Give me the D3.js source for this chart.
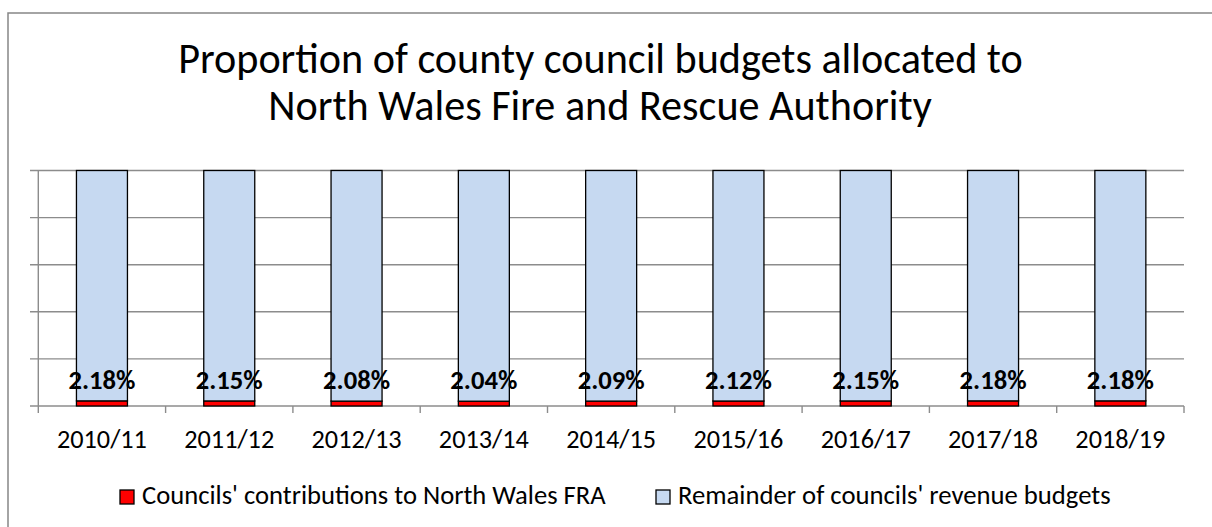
<!DOCTYPE html>
<html>
<head>
<meta charset="utf-8">
<script src="https://cdn.jsdelivr.net/npm/d3@7"></script>
<style>
  html, body { margin: 0; padding: 0; background: #fff; }
  svg { display: block; }
  text { font-family: Carlito, Calibri, Lato, "Open Sans", sans-serif; fill: #000; }
</style>
</head>
<body>
<svg id="chart" width="1212" height="527"></svg>
<script>
const categories = ["2010/11","2011/12","2012/13","2013/14","2014/15","2015/16","2016/17","2017/18","2018/19"];
const fraShare = [2.18, 2.15, 2.08, 2.04, 2.09, 2.12, 2.15, 2.18, 2.18];
const remainderShare = fraShare.map(v => 100 - v);
const yTicks = [0, 20, 40, 60, 80, 100];
const seriesNames = ["Councils' contributions to North Wales FRA", "Remainder of councils' revenue budgets"];
const seriesColors = ["#FF0000", "#C6D9F1"];
const titleLines = ["Proportion of county council budgets allocated to", "North Wales Fire and Rescue Authority"];

(function () {
const svg = d3.select("#chart");

// choose font-size so that the text's natural width matches the target
function fit(sel, base, target) {
  sel.style("font-size", base + "px");
  const w = sel.node().getComputedTextLength();
  sel.style("font-size", (base * target / w) + "px");
}

svg.append("rect").attr("x", 8).attr("y", 13).attr("width", 1240).attr("height", 540)
  .attr("fill", "#fff").attr("stroke", "#868686").attr("stroke-width", 1.5);

const t1 = svg.append("text").attr("x", 600.5).attr("y", 73).attr("text-anchor", "middle").text(titleLines[0]);
fit(t1, 36, 845);
const t2 = svg.append("text").attr("x", 600).attr("y", 120).attr("text-anchor", "middle").text(titleLines[1]);
t2.style("font-size", t1.style("font-size"));

const pLeft = 38.3, pRight = 1184, pTop = 170.5, pBottom = 406;
const xb = d3.scaleBand().domain(categories).range([pLeft, pRight]);
const y = d3.scaleLinear().domain([0, 100]).range([pBottom, pTop]);

svg.append("g").selectAll("line").data(yTicks).join("line")
  .attr("x1", 30).attr("x2", pRight)
  .attr("y1", d => y(d)).attr("y2", d => y(d))
  .attr("stroke", "#8c8c8c").attr("stroke-width", 1.4);

svg.append("line").attr("x1", pLeft).attr("x2", pLeft).attr("y1", pTop).attr("y2", pBottom + 7)
  .attr("stroke", "#8c8c8c").attr("stroke-width", 1.4);

const bounds = categories.map(c => xb(c)).concat([pRight]);
svg.append("g").selectAll("line").data(bounds.slice(1)).join("line")
  .attr("x1", d => d).attr("x2", d => d).attr("y1", pBottom).attr("y2", pBottom + 7)
  .attr("stroke", "#8c8c8c").attr("stroke-width", 1.4);

const stackData = categories.map((c, i) => ({cat: c, fra: fraShare[i], rem: remainderShare[i]}));
const stack = d3.stack().keys(["fra", "rem"])(stackData);
const bw = 51;
stack.forEach((layer, li) => {
  svg.append("g").selectAll("rect").data(layer).join("rect")
    .attr("x", d => xb(d.data.cat) + xb.bandwidth() / 2 - bw / 2)
    .attr("width", bw)
    .attr("y", d => y(d[1]))
    .attr("height", d => y(d[0]) - y(d[1]))
    .attr("fill", seriesColors[li])
    .attr("stroke", "#000").attr("stroke-width", 1.3);
});

const lbls = svg.append("g").selectAll("text").data(stackData).join("text")
  .attr("x", d => xb(d.cat) + xb.bandwidth() / 2)
  .attr("y", d => y(d.fra) - 12)
  .attr("text-anchor", "middle")
  .style("font-weight", "bold")
  .text(d => d.fra.toFixed(2) + "%");
const l0 = d3.select(lbls.nodes()[0]);
fit(l0, 22, 67);
lbls.style("font-size", l0.style("font-size"));

const cl = svg.append("g").selectAll("text").data(categories).join("text")
  .attr("x", d => xb(d) + xb.bandwidth() / 2)
  .attr("y", 448)
  .attr("text-anchor", "middle")
  .text(d => d);
const c0 = d3.select(cl.nodes()[0]);
fit(c0, 24, 90);
cl.style("font-size", c0.style("font-size"));

const legX = [120, 656];
const legTextTargets = [464, 433];
seriesNames.forEach((n, i) => {
  svg.append("rect").attr("x", legX[i]).attr("y", 490).attr("width", 14).attr("height", 14)
    .attr("fill", seriesColors[i]).attr("stroke", "#000").attr("stroke-width", 1.3);
  const tt = svg.append("text").attr("x", legX[i] + 22).attr("y", 504).text(n);
  fit(tt, 24, legTextTargets[i]);
});
})();
</script>
</body>
</html>
